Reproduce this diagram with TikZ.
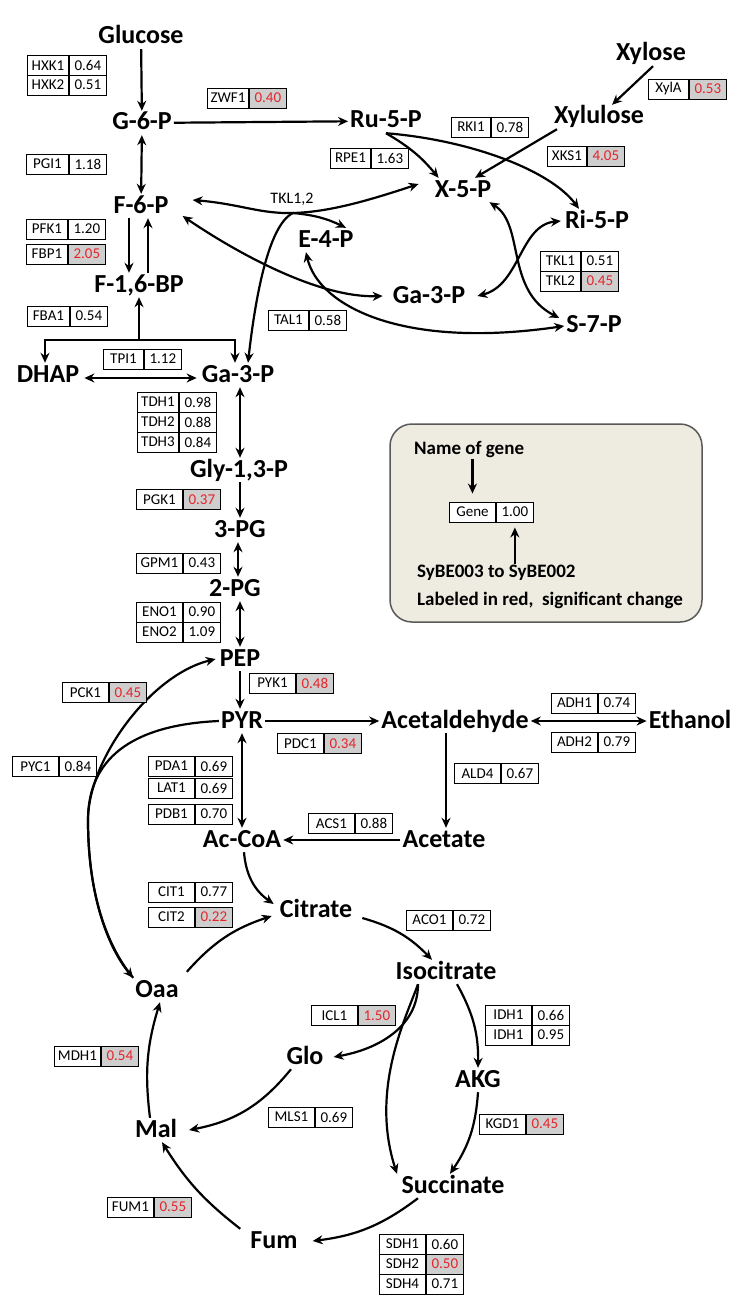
\documentclass[tikz,border=0pt]{standalone}
\usepackage{fontspec}
\setmainfont{Carlito}
\usetikzlibrary{arrows.meta}
\definecolor{sigred}{RGB}{230,36,42}
\definecolor{siggray}{RGB}{206,206,206}
\definecolor{legendfill}{RGB}{238,236,225}
\definecolor{legendline}{RGB}{89,89,89}
\tikzset{
	met/.style = {font=\fontsize{26}{30}\selectfont\bfseries, inner sep=2pt,
		text height=17pt, text depth=3pt},
	cell/.style = {draw=black, line width=0.9pt, fill=white, anchor=west,
		font=\fontsize{15}{18}\selectfont, minimum height=20pt, inner sep=1pt},
	gname/.style = {cell},
	gval/.style = {cell, minimum width=37pt},
	gsig/.style = {gval, fill=siggray, text=sigred},
	flow/.style = {line width=2.2pt, ->},
	note/.style = {font=\fontsize{19}{22}\selectfont\bfseries, anchor=west, inner sep=1pt},
	enz/.style = {font=\fontsize{16}{18}\selectfont, inner sep=1pt},
	legendbox/.style = {draw=legendline, fill=legendfill, line width=1.5pt,
		rounded corners=22pt, minimum width=312pt, minimum height=198pt}
}
% gene box: [name width]{node}{x,y of left edge}{gene}{value}{value style}
\newcommand{\gene}[6][46pt]{%
	\node[gname, minimum width=#1] (#2) at (#3) {#4};
	\node[#6] (#2v) at (#2.east) {#5};}

\begin{document}
\begin{tikzpicture}[x=1pt, y=-1pt, >={Stealth[length=10pt,width=9pt]}]
\useasboundingbox (0,0) rectangle (750,1316);
%----------------- Metabolites --------------
\node[met] (glc) at (141,37) {Glucose};
\node[met] (g6p) at (142,123) {G-6-P};
\node[met] (ru5p) at (386,121) {Ru-5-P};
\node[met] (xyl) at (651,54) {Xylose};
\node[met] (xlu) at (599,117) {Xylulose};
\node[met] (x5p) at (463,190) {X-5-P};
\node[met] (ri5p) at (597,221) {Ri-5-P};
\node[met] (f6p) at (141,206) {F-6-P};
\node[met] (e4p) at (326,240) {E-4-P};
\node[met] (f16bp) at (139,285) {F-1,6-BP};
\node[met] (ga3pu) at (429,296) {Ga-3-P};
\node[met] (s7p) at (594,325) {S-7-P};
\node[met] (dhap) at (48,375) {DHAP};
\node[met] (ga3pl) at (238,375) {Ga-3-P};
\node[met] (g13p) at (239,470) {Gly-1,3-P};
\node[met] (pg3) at (240,530) {3-PG};
\node[met] (pg2) at (235,589) {2-PG};
\node[met] (pep) at (240,659) {PEP};
\node[met] (pyr) at (242,721) {PYR};
\node[met] (acald) at (455,721) {Acetaldehyde};
\node[met] (etoh) at (690,721) {Ethanol};
\node[met] (acet) at (444,840) {Acetate};
\node[met] (accoa) at (242,840) {Ac-CoA};
\node[met] (cit) at (316,910) {Citrate};
\node[met] (icit) at (446,972) {Isocitrate};
\node[met] (oaa) at (157,990) {Oaa};
\node[met] (glo) at (305,1057) {Glo};
\node[met] (akg) at (478,1080) {AKG};
\node[met] (mal) at (156,1130) {Mal};
\node[met] (succ) at (453,1186) {Succinate};
\node[met] (fum) at (274,1241) {Fum};
%----------------- Glycolysis --------------
\draw[flow] (glc) -- (g6p);
\draw[flow] (g6p) -- (ru5p);
\draw[flow, <->] (g6p) -- (f6p);
\draw[flow] ([xshift=-12pt]f6p.south) -- ([xshift=-12pt]f6p.south |- f16bp.north);
\draw[flow] ([xshift=7pt]f6p.south |- f16bp.north) -- ([xshift=7pt]f6p.south);
\coordinate (fbajn) at (139,340);
\draw[flow] (fbajn) -- (f16bp.south);
\draw[flow] (fbajn) -| ([xshift=-3pt]dhap.north);
\draw[flow] (fbajn) -| ([xshift=-3pt]ga3pl.north);
\draw[flow, <->] ([xshift=3pt,yshift=-3pt]dhap.east) -- ([xshift=-3pt,yshift=-3pt]ga3pl.west);
\draw[flow, <->] ([xshift=2pt]ga3pl.south) -- ([xshift=2pt]ga3pl.south |- g13p.north);
\draw[flow] (g13p.south -| pg3.north) -- (pg3.north);
\draw[flow, <->] ([xshift=-2pt]pg3.south) -- ([xshift=-2pt]pg3.south |- pg2.north);
\draw[flow, <->] (pep.north |- pg2.south) -- (pep.north);
\draw[flow] (pep.south) -- (pep.south |- pyr.north);
%----------------- Pentose phosphate --------------
\draw[flow] (ru5p.south) to[bend left=10] ([xshift=6pt]x5p.north west);
\draw[flow] (ru5p.south) .. controls (470,140) and (550,170) .. ([xshift=-18pt]ri5p.north);
\draw[flow] ([xshift=2pt]xyl.south) -- ([xshift=13pt]xlu.north);
\draw[flow] ([xshift=-42pt]xlu.south) -- ([xshift=12pt]x5p.north);
\coordinate (tkjn) at (293,213);
\draw[flow, <->] ([xshift=22pt,yshift=6pt]f6p.east) .. controls (240,204) and (260,214) .. (tkjn)
	.. controls (330,212) and (370,200) .. ([xshift=-14pt,yshift=6pt]x5p.west);
\draw[flow] (tkjn) to[bend left=10] ([xshift=20pt]e4p.north);
\draw[flow] (tkjn) .. controls (268,225) and (255,300) .. ([xshift=10pt]ga3pl.north);
\node[enz] (tkl) at (292,199) {TKL1,2};
\draw[flow, <->] ([xshift=12pt,yshift=-10pt]f6p.east) .. controls (240,255) and (320,298) .. ([xshift=-8pt]ga3pu.west);
\draw[flow, <->] ([xshift=-20pt]e4p.south) .. controls (318,305) and (400,350) .. ([yshift=-1pt]s7p.west);
\draw[flow, <->] ([xshift=-4pt]x5p.south east) .. controls (525,225) and (505,290) .. ([xshift=-5pt,yshift=7pt]s7p.west);
\draw[flow, <->] ([xshift=-2pt]ri5p.west) .. controls (520,225) and (520,285) .. ([xshift=10pt]ga3pu.east);
%----------------- Fermentation --------------
\draw[flow] (pyr) -- (acald);
\draw[flow, <->] (acald) -- (etoh);
\draw[flow] ([xshift=-9pt]acald.south) -- ([xshift=-9pt]acald.south |- acet.north);
\draw[flow] (acet) -- (accoa);
\draw[flow, <->] (pyr) -- (accoa);
%----------------- TCA cycle --------------
\draw[flow] ([xshift=2pt]accoa.south) to[bend right=25] ([xshift=-4pt,yshift=6pt]cit.west);
\draw[flow] ([xshift=6pt,yshift=6pt]oaa.north east) to[bend left=15] ([xshift=-6pt,yshift=-6pt]cit.west);
\draw[flow] ([xshift=8pt,yshift=-8pt]cit.east) to[bend left=15] ([xshift=-14pt]icit.north);
\draw[flow] ([xshift=-28pt]icit.south) to[out=-90, in=10] ([xshift=8pt]glo.east);
\draw[flow] ([xshift=-28pt]icit.south) .. controls (405,1020) and (370,1090) .. ([xshift=-56pt]succ.north);
\draw[flow] ([xshift=11pt]icit.south) to[bend left=15] (akg.north);
\draw[flow] (akg.south) to[bend left=15] ([xshift=-3pt]succ.north);
\draw[flow] ([xshift=-35pt]succ.south) to[bend left=15] ([xshift=13pt]fum.east);
\draw[flow] ([xshift=-8pt]fum.north west) to[bend left=10] ([xshift=6pt]mal.south);
\draw[flow] ([xshift=-14pt]glo.south) to[bend left=20] ([xshift=10pt]mal.east);
\draw[flow] ([xshift=-6pt]mal.north) to[bend left=12] ([xshift=3pt]oaa.south);
\coordinate (anajn) at (88,820);
\draw[flow] (oaa.north west) .. controls (110,950) and (88,900) .. (anajn)
	.. controls (88,760) and (150,675) .. ([xshift=-2pt]pep.west);
\draw[flow] (pyr.west) .. controls (130,725) and (88,760) .. (anajn)
	.. controls (88,900) and (110,950) .. (oaa.north west);
%----------------- Gene boxes --------------
\gene[41pt]{hxk1}{27,65.5}{HXK1}{0.64}{gval}
\gene[41pt]{hxk2}{27,85}{HXK2}{0.51}{gval}
\gene[41pt]{zwf1}{207,98}{ZWF1}{0.40}{gsig}
\gene[42pt]{pgi1}{26,164}{PGI1}{1.18}{gval}
\gene[41pt]{pfk1}{26,229}{PFK1}{1.20}{gval}
\gene[41pt]{fbp1}{26,254}{FBP1}{2.05}{gsig}
\gene[42pt]{fba1}{27,316}{FBA1}{0.54}{gval}
\gene[40pt]{rpe1}{330,158}{RPE1}{1.63}{gval}
\gene[39pt]{rki1}{451,127}{RKI1}{0.78}{gval}
\gene[40pt]{xyla}{648,89}{XylA}{0.53}{gsig}
\gene[39pt]{xks1}{547,156}{XKS1}{4.05}{gsig}
\gene[40pt]{tkl1}{540,261}{TKL1}{0.51}{gval}
\gene[40pt]{tkl2}{540,281}{TKL2}{0.45}{gsig}
\gene[40pt]{tal1}{268,320}{TAL1}{0.58}{gval}
\gene[40pt]{tpi1}{103,359}{TPI1}{1.12}{gval}
\gene[41pt]{tdh1}{137,402}{TDH1}{0.98}{gval}
\gene[41pt]{tdh2}{137,422}{TDH2}{0.88}{gval}
\gene[41pt]{tdh3}{137,442}{TDH3}{0.84}{gval}
\gene{pgk1}{136,499.5}{PGK1}{0.37}{gsig}
\gene{gpm1}{136,563}{GPM1}{0.43}{gval}
\gene{eno1}{136,612}{ENO1}{0.90}{gval}
\gene{eno2}{136,632}{ENO2}{1.09}{gval}
\gene{pck1}{62,692.5}{PCK1}{0.45}{gsig}
\gene{pyk1}{249,683}{PYK1}{0.48}{gsig}
\gene{pyc1}{12,766.5}{PYC1}{0.84}{gval}
\gene{pdc1}{277,743.5}{PDC1}{0.34}{gsig}
\gene{pda1}{148,766}{PDA1}{0.69}{gval}
\gene{lat1}{148,788}{LAT1}{0.69}{gval}
\gene{pdb1}{148,814}{PDB1}{0.70}{gval}
\gene{adh1}{551,703}{ADH1}{0.74}{gval}
\gene{adh2}{551,742}{ADH2}{0.79}{gval}
\gene{ald4}{454,773.5}{ALD4}{0.67}{gval}
\gene{acs1}{308,823.5}{ACS1}{0.88}{gval}
\gene{cit1}{148,892}{CIT1}{0.77}{gval}
\gene{cit2}{148,917}{CIT2}{0.22}{gsig}
\gene{aco1}{406,920}{ACO1}{0.72}{gval}
\gene{icl1}{311,1015.5}{ICL1}{1.50}{gsig}
\gene{idh1}{485,1015}{IDH1}{0.66}{gval}
\gene{idh1b}{485,1035}{IDH1}{0.95}{gval}
\gene{mdh1}{54,1056}{MDH1}{0.54}{gsig}
\gene{mls1}{268,1117}{MLS1}{0.69}{gval}
\gene{kgd1}{479,1124}{KGD1}{0.45}{gsig}
\gene{fum1}{107,1207}{FUM1}{0.55}{gsig}
\gene{sdh1}{379,1244}{SDH1}{0.60}{gval}
\gene{sdh2}{379,1264}{SDH2}{0.50}{gsig}
\gene{sdh4}{379,1284}{SDH4}{0.71}{gval}
%----------------- Legend --------------
\node[legendbox] (legend) at (546,523) {};
\node[note] (lgname) at (413,450) {Name of gene};
\gene{lgene}{449,512}{Gene}{1.00}{gval}
\node[note] (lgsy) at (416,573) {SyBE003 to SyBE002};
\node[note] (lgred) at (416,600) {Labeled in red,\ \ significant change};
\draw[flow] (lgname.south -| lgene.north) -- ([yshift=8pt]lgene.north);
\draw[flow] (lgsy.north -| lgenev.south) -- ([yshift=-5pt]lgenev.south);
\end{tikzpicture}
\end{document}
